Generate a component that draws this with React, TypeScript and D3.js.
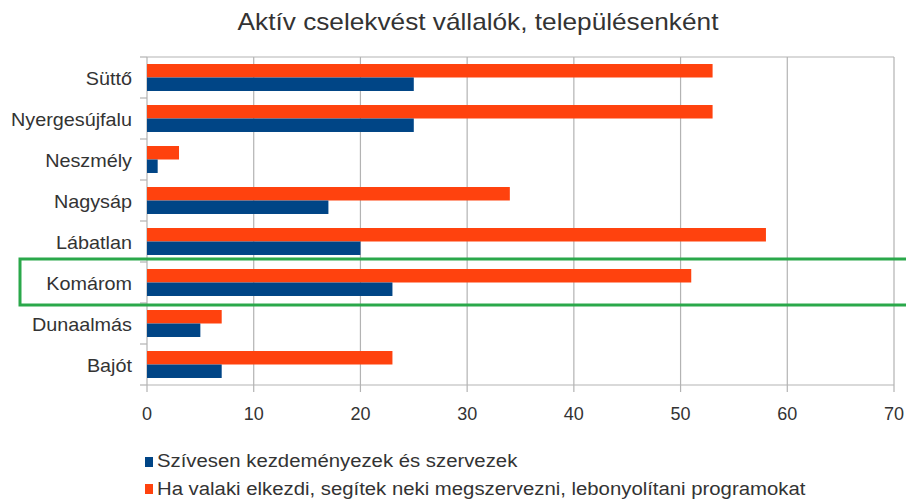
import * as d3 from "d3";
import React from "react";

const categories = ["Süttő", "Nyergesújfalu", "Neszmély", "Nagysáp", "Lábatlan", "Komárom", "Dunaalmás", "Bajót"];
const seriesNames = [
  "Ha valaki elkezdi, segítek neki megszervezni, lebonyolítani programokat",
  "Szívesen kezdeményezek és szervezek",
];
const helpValues = [53, 53, 3, 34, 58, 51, 7, 23];
const initValues = [25, 25, 1, 17, 20, 23, 5, 7];
const xTicks = [0, 10, 20, 30, 40, 50, 60, 70];
const highlighted = "Komárom";

const ORANGE = "#ff420e";
const BLUE = "#004586";
const GRID = "#b3b3b3";
const TEXT = "#333333";

export default function App() {
  const W = 906;
  const H = 504;
  const left = 147;
  const right = 894;
  const top = 57;
  const bottom = 385;

  const x = d3.scaleLinear().domain([0, 70]).range([left, right]);
  const y = d3.scaleBand().domain(categories).range([top, bottom]).padding(0);
  // inner scale: orange bar on top, blue below
  const y1 = d3.scaleBand().domain(seriesNames).range([0, y.bandwidth()]).paddingInner(0).paddingOuter(0.52);
  const series = [helpValues, initValues];
  const colors = [ORANGE, BLUE];

  const font = "'Liberation Sans', Arial, sans-serif";

  return (
    <svg width={W} height={H} style={{ position: "absolute", left: 0, top: 0 }} fontFamily={font}>
      <rect width={W} height={H} fill="#fff" />
      <text transform="translate(478,30) scale(1.14,1)" textAnchor="middle" fontSize={23} fill={TEXT}>
        Aktív cselekvést vállalók, településenként
      </text>

      {/* vertical grid */}
      {xTicks.map((t) => (
        <line key={"g" + t} x1={x(t)} x2={x(t)} y1={top} y2={bottom + 7} stroke={GRID} strokeWidth={1.2} />
      ))}
      <line x1={left} x2={right} y1={top} y2={top} stroke={GRID} strokeWidth={1.2} />
      <line x1={left} x2={right} y1={bottom} y2={bottom} stroke={GRID} strokeWidth={1.2} />

      {/* category ticks */}
      {[...categories.map((c) => y(c) as number), bottom].map((v, i) => (
        <line key={"t" + i} x1={left - 7} x2={left} y1={v} y2={v} stroke={GRID} strokeWidth={1.2} />
      ))}

      {/* bars */}
      {series.map((vals, si) =>
        categories.map((c, i) => (
          <rect
            key={si + "-" + c}
            x={x(0)}
            y={(y(c) as number) + (y1(seriesNames[si]) as number)}
            width={x(vals[i]) - x(0)}
            height={y1.bandwidth()}
            fill={colors[si]}
          />
        ))
      )}

      {/* category labels */}
      {categories.map((c) => (
        <text
          key={"l" + c}
          transform={`translate(132,${(y(c) as number) + y.bandwidth() / 2 + 7}) scale(1.1,1)`}
          textAnchor="end"
          fontSize={18}
          fill={TEXT}
        >
          {c}
        </text>
      ))}

      {/* x tick labels */}
      {xTicks.map((t) => (
        <text key={"x" + t} x={x(t)} y={420} textAnchor="middle" fontSize={18} fill={TEXT}>
          {t}
        </text>
      ))}

      {/* highlight box */}
      <rect
        x={20}
        y={(y(highlighted) as number) - 3}
        width={W}
        height={y.bandwidth() + 5}
        fill="none"
        stroke="#2aa84a"
        strokeWidth={3}
      />

      {/* legend */}
      <rect x={145} y={457} width={8} height={10} fill={BLUE} />
      <text transform="translate(157,467) scale(1.13,1)" fontSize={18} fill={TEXT}>
        {seriesNames[1]}
      </text>
      <rect x={145} y={484} width={8} height={10} fill={ORANGE} />
      <text transform="translate(157,495) scale(1.13,1)" fontSize={18} fill={TEXT}>
        {seriesNames[0]}
      </text>
    </svg>
  );
}
